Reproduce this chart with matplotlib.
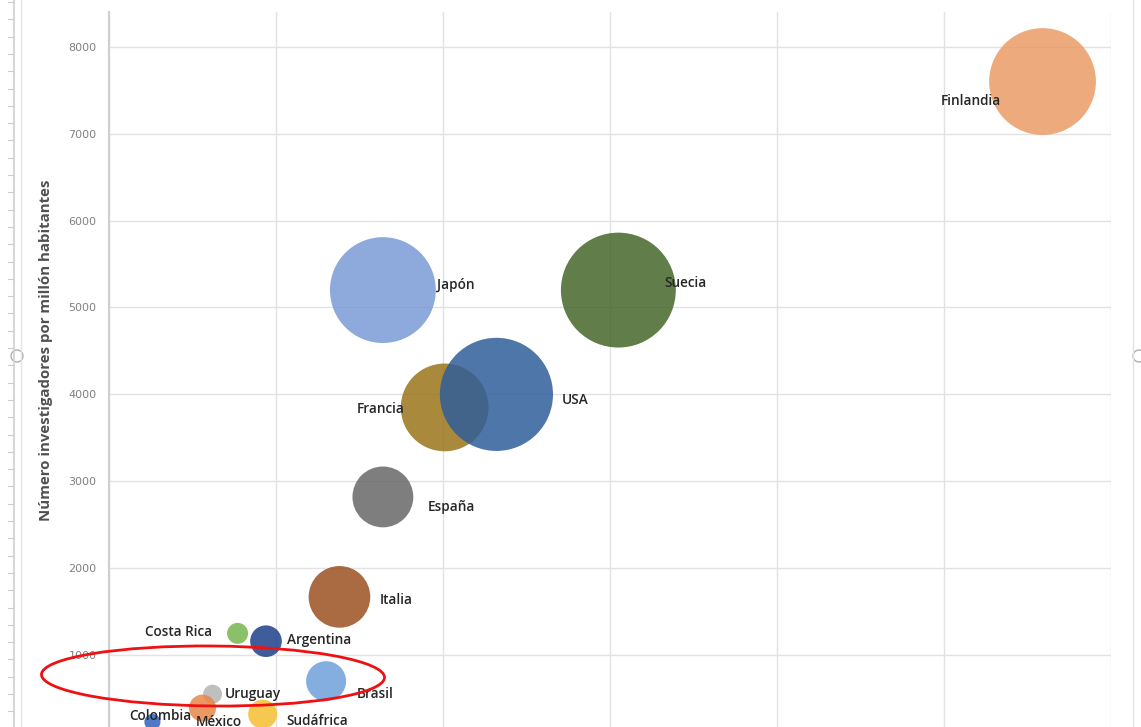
import matplotlib
matplotlib.use("Agg")
import matplotlib.pyplot as plt
from matplotlib.patches import Ellipse, Circle
from matplotlib.lines import Line2D
import numpy as np

paises = ["Finlandia", "Japón", "Suecia", "Francia", "USA", "España", "Italia",
          "Costa Rica", "Argentina", "Brasil", "Uruguay", "México", "Sudáfrica", "Colombia"]
eje_x = [5.59, 1.64, 3.05, 2.01, 2.32, 1.64, 1.38, 0.77, 0.94, 1.30, 0.62, 0.56, 0.92, 0.26]
investigadores = [7600, 5200, 5200, 3850, 4000, 2820, 1670, 1250, 1160, 700, 550, 390, 320, 230]
tamano = [114, 112, 132, 77, 128, 37, 38, 4.4, 10, 16, 3.6, 7.3, 8.4, 2.6]
colores = ["#EA9B66", "#7A9AD5", "#45662A", "#9A761A", "#305E99", "#686868", "#9B5021",
           "#78B450", "#1D4088", "#6FA0DB", "#B4B4B4", "#E78749", "#F6BF31", "#3161BE"]

# desplazamiento de cada etiqueta (puntos) y alineacion
etiq_dx = [-30, 39, 33, -29, 47, 32, 29, -18, 15, 22, 9, -5, 17, 6]
etiq_dy = [-14, 4, 5, -1, -4, -7, -2, 1, 1, -9, 0, -10, -5, 4]
etiq_ha = ["right", "left", "left", "right", "left", "left", "left",
           "right", "left", "left", "left", "left", "left", "center"]

W, H = 1141, 727
fig = plt.figure(figsize=(W / 100, H / 100), dpi=100)
fig.patch.set_facecolor("white")

ax = fig.add_axes([109 / W, (H - 742) / H, 1002 / W, 730 / H])
ax.set_xlim(0, 6)
ax.set_ylim(0, 8400)

for xv in range(0, 7):
    ax.axvline(xv, color="#e2e2e2", lw=1.0, zorder=0)
for yv in range(1000, 9000, 1000):
    ax.axhline(yv, color="#e2e2e2", lw=1.0, zorder=0)

s = [51.84 * t for t in tamano]
for i in range(len(paises)):
    ax.scatter(eje_x[i], investigadores[i], s=s[i], color=colores[i], alpha=0.85,
               edgecolors="none", zorder=2)
    ax.annotate(paises[i], (eje_x[i], investigadores[i]), xytext=(etiq_dx[i], etiq_dy[i]),
                textcoords="offset points", ha=etiq_ha[i], va="center",
                fontsize=9.8, color="#262626", family="Open Sans", fontweight="semibold",
                zorder=3, annotation_clip=False)

ax.set_xticks([])
ax.set_yticks(range(1000, 9000, 1000))
ax.tick_params(axis="y", length=0, pad=9, labelsize=8, labelcolor="#808080")
for sp in ["top", "right", "bottom"]:
    ax.spines[sp].set_visible(False)
ax.spines["left"].set_color("#cfcfcf")
ax.spines["left"].set_linewidth(1.5)
ax.set_ylabel("Número investigadores por millón habitantes", fontsize=10.8,
              family="Open Sans", fontweight="bold", color="#505050")
ax.yaxis.set_label_coords((53 - 109) / 1002, (742 - 350) / 730)

# capa de adornos en pixeles (regla izquierda, bordes, elipse roja)
ov = fig.add_axes([0, 0, 1, 1], facecolor="none")
ov.set_xlim(0, W)
ov.set_ylim(H, 0)
ov.axis("off")
ov.add_line(Line2D([14, 14], [0, H], color="#d0d0d0", lw=1.2))
ov.add_line(Line2D([21, 21], [0, H], color="#e4e4e4", lw=1.0))
for yt in np.arange(2, H, 17.3):
    ov.add_line(Line2D([8, 13], [yt, yt], color="#cccccc", lw=0.8))
ov.add_line(Line2D([1133, 1133], [0, H], color="#e4e4e4", lw=1.0))
ov.add_patch(Circle((17, 356), 6, facecolor="white", edgecolor="#b0b0b0", lw=1))
ov.add_patch(Circle((1139, 356), 6, facecolor="white", edgecolor="#b0b0b0", lw=1))
ov.add_patch(Ellipse((213, 676), 343, 60, angle=0.5, facecolor="none",
                     edgecolor="#ee1111", lw=2, zorder=5))

fig.savefig("out.png", dpi=100)
